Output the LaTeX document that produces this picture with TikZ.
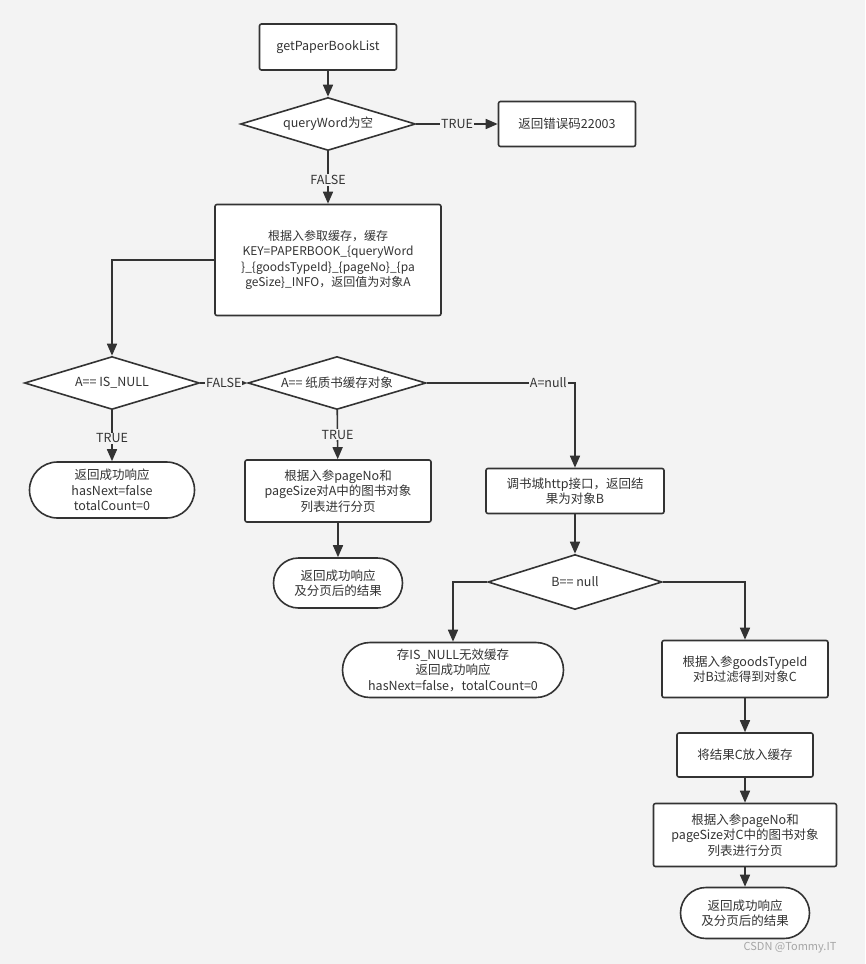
\documentclass[tikz,border=0pt]{standalone}
\usepackage{fontspec}
\newfontfamily\cjk{Noto Sans CJK SC}
\usepackage{xcolor}
\usetikzlibrary{shapes.geometric,shapes.misc,arrows.meta}
\definecolor{bgcol}{HTML}{F3F3F3}
\definecolor{ink}{HTML}{333333}

\begin{document}
\begin{tikzpicture}[x=1pt,y=-1pt,font=\cjk\fontsize{12.5}{15.5}\selectfont,text=ink]
        \fill[bgcol] (0,0) rectangle (865,964);
        \useasboundingbox (0,0) rectangle (865,964);
        \tikzstyle{every node}=[draw=ink, line width=1.6pt, fill=white, align=center, inner sep=2pt]
        \tikzstyle{stepbox}=[rectangle, rounded corners=2pt]
        \tikzstyle{endbox}=[rounded rectangle]
        \tikzstyle{check}=[diamond, aspect=3.4, inner sep=0pt, minimum width=175pt, minimum height=53pt]
        \node[stepbox, minimum width=137pt, minimum height=46pt] (start) at (328, 47) {getPaperBookList};
        \node[check] (qw)   at (328, 124) {queryWord为空};
        \node[stepbox, minimum width=137pt, minimum height=45pt] (err) at (567, 124) {返回错误码22003};
        \node[stepbox, minimum width=226pt, minimum height=111pt, font=\cjk\fontsize{12}{15.5}\selectfont] (cache) at (328, 260)
            {根据入参取缓存，缓存\\KEY=PAPERBOOK\_\{queryWord\\\}\_\{goodsTypeId\}\_\{pageNo\}\_\{pa\\geSize\}\_INFO，返回值为对象A};
        \node[check] (isnull) at (112, 383) {A== IS\_NULL};
        \node[check, minimum width=178pt] (ispaper) at (337, 383) {A== 纸质书缓存对象};
        \node[endbox, minimum width=169pt, minimum height=56pt] (retnull) at (112, 490)
            {返回成功响应\\hasNext=false\\totalCount=0};
        \node[stepbox, minimum width=186pt, minimum height=62pt] (pagea) at (338, 491)
            {根据入参pageNo和\\pageSize对A中的图书对象\\列表进行分页};
        \node[endbox, minimum width=133pt, minimum height=50pt] (reta) at (338, 583)
            {返回成功响应\\及分页后的结果};
        \node[stepbox, minimum width=178pt, minimum height=45pt] (http) at (575, 491)
            {调书城http接口，返回结\\果为对象B};
        \node[check, minimum width=174pt, minimum height=55pt] (isnullb) at (575, 582) {B== null};
        \node[endbox, minimum width=225pt, minimum height=55pt] (store) at (453, 670)
            {存IS\_NULL无效缓存\\返回成功响应\\hasNext=false，totalCount=0};
        \node[stepbox, minimum width=166pt, minimum height=57pt] (filter) at (745, 669)
            {根据入参goodsTypeId\\对B过滤得到对象C};
        \node[stepbox, minimum width=136pt, minimum height=44pt] (putc) at (745, 755) {将结果C放入缓存};
        \node[stepbox, minimum width=183pt, minimum height=63pt] (pagec) at (745, 835)
            {根据入参pageNo和\\pageSize对C中的图书对象\\列表进行分页};
        \node[endbox, minimum width=133pt, minimum height=51pt] (retc) at (745, 913)
            {返回成功响应\\及分页后的结果};
        \node[draw=none, fill=none, text=gray!70, font=\cjk\fontsize{11}{13}\selectfont] (mark) at (790, 948) {CSDN @Tommy.IT};
        \tikzstyle{every node}=[fill=bgcol, inner sep=1pt]
        \tikzstyle{every path}=[-{Triangle[length=12pt,width=10pt]}, line width=1.6pt, draw=ink]
        \draw (start) -- (qw);
        \draw (qw) -- node {TRUE} (err);
        \draw (qw) -- node[pos=0.55] {FALSE} (cache);
        \draw (cache.west) -| (isnull.north);
        \draw (isnull) -- node {FALSE} (ispaper);
        \draw (ispaper.east) -| node[pos=0.41] {A=null} (http.north);
        \draw (isnull) -- node[pos=0.55] {TRUE} (retnull);
        \draw (ispaper) -- node[pos=0.5] {TRUE} (pagea);
        \draw (pagea) -- (reta);
        \draw (http) -- (isnullb);
        \draw (isnullb.west) -| (store.north);
        \draw (isnullb.east) -| (filter.north);
        \draw (filter) -- (putc);
        \draw (putc) -- (pagec);
        \draw (pagec) -- (retc);
\end{tikzpicture}
\end{document}
